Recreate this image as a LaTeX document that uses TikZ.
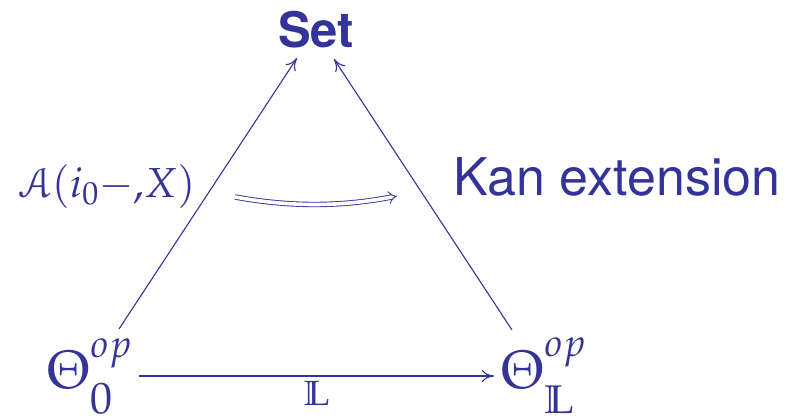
\documentclass[tikz,border=0pt]{standalone}
\usepackage{mathpazo}
\usepackage{amssymb}
\usepackage[mathcal]{eucal}
\usepackage[no-math]{fontspec}
\setmainfont{TeX Gyre Heros}
\usetikzlibrary{arrows.meta}
\definecolor{dblue}{RGB}{51,51,153}
\begin{document}
\begin{tikzpicture}[x=1pt,y=-1pt,line width=1.1pt,color=dblue,
  arr/.style={-{To[length=12pt,width=12pt]}},
  lbl/.style={inner sep=0pt}]
\useasboundingbox (0,0) rectangle (787,420);
\node[lbl,anchor=base,font=\fontsize{49}{55}\selectfont\bfseries] (set) at (316,48) {Set};
\node[lbl,anchor=base west,font=\fontsize{52}{58}\selectfont] (kan) at (453,195) {Kan extension};
\node[lbl,anchor=base west,font=\fontsize{42}{48}\selectfont] (lab) at (19,197) {$\mathcal{A}(i_0{-}{,}X)$};
\node[lbl,anchor=base west,font=\fontsize{54}{60}\selectfont] (th0) at (46,388)
  {$\Theta$\rlap{\raisebox{31pt}{\fontsize{39}{40}\selectfont$op$}}\raisebox{-25pt}{\fontsize{44}{48}\selectfont$0$}};
\node[lbl,anchor=base west,font=\fontsize{54}{60}\selectfont] (thL) at (500,388)
  {$\Theta$\rlap{\raisebox{32pt}{\fontsize{39}{40}\selectfont$op$}}\raisebox{-25pt}{\fontsize{40}{44}\selectfont$\mathbb{L}$}};
\node[lbl,anchor=base,font=\fontsize{35}{40}\selectfont] (bl) at (317,405) {$\mathbb{L}$};
\coordinate (a0) at (119,329);
\coordinate (a1) at (297,58);
\coordinate (b0) at (512,330);
\coordinate (b1) at (334,59);
\coordinate (c0) at (139,376);
\coordinate (c1) at (494,376);
\coordinate (d0) at (235,197);
\coordinate (d1) at (397,196);
\draw[arr] (a0) -- (a1);
\draw[arr] (b0) -- (b1);
\draw[arr] (c0) -- (c1);
\draw[double,double distance=3.6pt,line width=0.9pt,-{Implies}] (d0) .. controls (290,207) and (340,207) .. (d1);
\end{tikzpicture}
\end{document}
